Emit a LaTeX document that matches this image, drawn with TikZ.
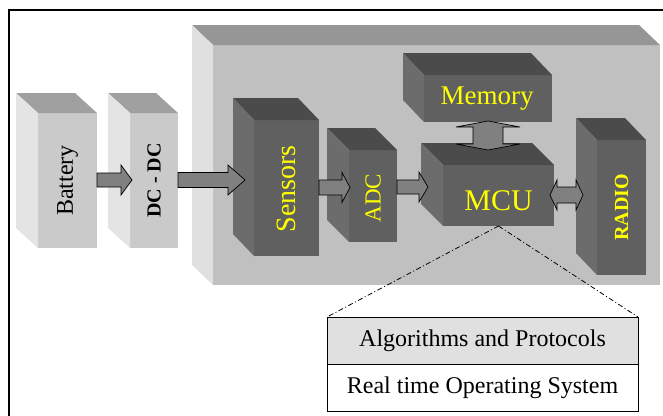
\documentclass[tikz,border=0pt]{standalone}
\usepackage{fontspec}
\setmainfont{Liberation Serif}
\usetikzlibrary{calc}
\definecolor{boardfront}{HTML}{C0C0C0}
\definecolor{boardtop}{HTML}{969696}
\definecolor{boardside}{HTML}{E0E0E0}
\definecolor{lightfront}{HTML}{CACACA}
\definecolor{lighttop}{HTML}{A0A0A0}
\definecolor{lightside}{HTML}{E4E4E4}
\definecolor{darkfront}{HTML}{606060}
\definecolor{darktop}{HTML}{4B4B4B}
\definecolor{darkside}{HTML}{6C6C6C}
\definecolor{arrowfill}{HTML}{808080}
\definecolor{txtyellow}{HTML}{FFFF00}
\definecolor{rowgray}{HTML}{E0E0E0}
\newcommand\fsz[1]{\fontsize{#1}{#1}\selectfont}
% name, x0, y0, x1, y1 (front face), dx, dy (depth), colour prefix
\newcommand\cubebox[8]{%
  \node[fill=#8front, inner sep=0pt, outer sep=0pt,
        minimum width={(#4-#2)*1pt}, minimum height={(#5-#3)*1pt}]
        (#1) at ({(#2+#4)/2},{(#3+#5)/2}) {};
  \fill[#8top] (#1.north west) -- ++(-#6,-#7) -- ([shift={(-#6,-#7)}]#1.north east) -- (#1.north east) -- cycle;
  \fill[#8side] (#1.north west) -- ++(-#6,-#7) -- ([shift={(-#6,-#7)}]#1.south west) -- (#1.south west) -- cycle;
}
% block arrow: start x from #1, tip #2 (gives y), shaft half, head half, head length
\newcommand\barrow[5]{%
  \draw[blockarrow] let \p1=(#1), \p2=(#2) in
    (\x1,\y2+#3pt) -- (\x2-#5pt,\y2+#3pt) -- (\x2-#5pt,\y2+#4pt) -- (\x2,\y2)
    -- (\x2-#5pt,\y2-#4pt) -- (\x2-#5pt,\y2-#3pt) -- (\x1,\y2-#3pt) -- cycle;
}
% horizontal double arrow between tips #1 (left) and #2 (right)
\newcommand\hdarrow[5]{%
  \draw[blockarrow] let \p1=(#1), \p2=(#2) in
    (\x1,\y1) -- (\x1+#5pt,\y1+#4pt) -- (\x1+#5pt,\y1+#3pt) -- (\x2-#5pt,\y1+#3pt)
    -- (\x2-#5pt,\y1+#4pt) -- (\x2,\y1) -- (\x2-#5pt,\y1-#4pt) -- (\x2-#5pt,\y1-#3pt)
    -- (\x1+#5pt,\y1-#3pt) -- (\x1+#5pt,\y1-#4pt) -- cycle;
}
% vertical double arrow between tips #1 (top) and #2 (bottom)
\newcommand\vdarrow[5]{%
  \draw[blockarrow] let \p1=(#1), \p2=(#2) in
    (\x1,\y1) -- (\x1+#4pt,\y1-#5pt) -- (\x1+#3pt,\y1-#5pt) -- (\x1+#3pt,\y2+#5pt)
    -- (\x1+#4pt,\y2+#5pt) -- (\x1,\y2) -- (\x1-#4pt,\y2+#5pt) -- (\x1-#3pt,\y2+#5pt)
    -- (\x1-#3pt,\y1-#5pt) -- (\x1-#4pt,\y1-#5pt) -- cycle;
}
\tikzset{
  blockarrow/.style={fill=arrowfill, draw=black, line width=0.7pt, line join=miter},
  yellowtext/.style={text=txtyellow, inner sep=0pt},
  blacktext/.style={text=black, inner sep=0pt},
  tablerow/.style={draw=black, line width=0.9pt, inner sep=0pt, outer sep=0pt,
                   minimum width=311pt, minimum height=47pt, font=\fsz{24}},
  zoomline/.style={black, line width=0.8pt, dash pattern=on 5pt off 2.5pt on 1pt off 2.5pt}
}
\begin{document}
\begin{tikzpicture}[x=1pt,y=-1pt]
\useasboundingbox (0,0) rectangle (663,415);
\fill[white] (0,0) rectangle (663,415);
% frame
\coordinate (fbl) at (9,420);
\coordinate (ftl) at (9,10);
\coordinate (ftr) at (670,10);
\draw[black, line width=1.8pt] (fbl) -- (ftl) -- (ftr);
% board
\cubebox{board}{213}{45}{660}{285}{21}{20}{board}
% power chain
\cubebox{battery}{38}{113}{97}{248}{22}{20}{light}
\cubebox{dcdc}{130}{113}{178}{248}{22}{20}{light}
\node[blacktext, rotate=90, font=\fsz{24}] (batterytext) at (battery.center) {Battery};
\node[blacktext, rotate=90, font=\fsz{20}\bfseries] (dcdctext) at (dcdc.center) {DC - DC};
% modules
\cubebox{sensors}{254}{120}{319}{256}{21}{22}{dark}
\cubebox{adc}{349}{150}{397}{242}{22}{22}{dark}
\cubebox{memory}{424}{75}{552}{122}{21}{22}{dark}
\cubebox{mcu}{443}{165}{554}{226}{22}{22}{dark}
\cubebox{radio}{597}{140}{646}{275}{21}{22}{dark}
\node[yellowtext, rotate=90, font=\fsz{28}] (sensorstext) at ([yshift=-1]sensors.center) {Sensors};
\node[yellowtext, rotate=90, font=\fsz{23}] (adctext) at ([yshift=-2]adc.center) {ADC};
\node[yellowtext, font=\fsz{27}] (memorytext) at ([xshift=-1]memory.center) {Memory};
\node[yellowtext, font=\fsz{30}] (mcutext) at ([yshift=-5]mcu.center) {MCU};
\node[yellowtext, rotate=90, font=\fsz{20}\bfseries] (radiotext) at (radio.center) {RADIO};
% arrows
\coordinate (tip1) at (132,180);
\coordinate (tip2) at (245,180);
\coordinate (tip3) at (350,187.5);
\coordinate (tip4) at (428,187);
\barrow{battery.east}{tip1}{7}{15}{11}
\barrow{dcdc.east}{tip2}{7.5}{15}{17}
\barrow{sensors.east}{tip3}{7.5}{15}{8}
\barrow{adc.east}{tip4}{7}{15}{9}
\coordinate (memtip) at (488,121);
\coordinate (mcutip) at (488,150);
\vdarrow{memtip}{mcutip}{15}{32}{6}
\coordinate (mcuright) at (550,195);
\coordinate (radioleft) at (583,195);
\hdarrow{mcuright}{radioleft}{8}{15}{7}
% software table
\node[tablerow, fill=rowgray, anchor=north west] (algo) at (327,317) {Algorithms and Protocols};
\node[tablerow, fill=white, anchor=north] (rtos) at (algo.south) {Real time Operating System};
\draw[zoomline] (mcu.south) -- (algo.north west);
\draw[zoomline] (mcu.south) -- (algo.north east);
\end{tikzpicture}
\end{document}
